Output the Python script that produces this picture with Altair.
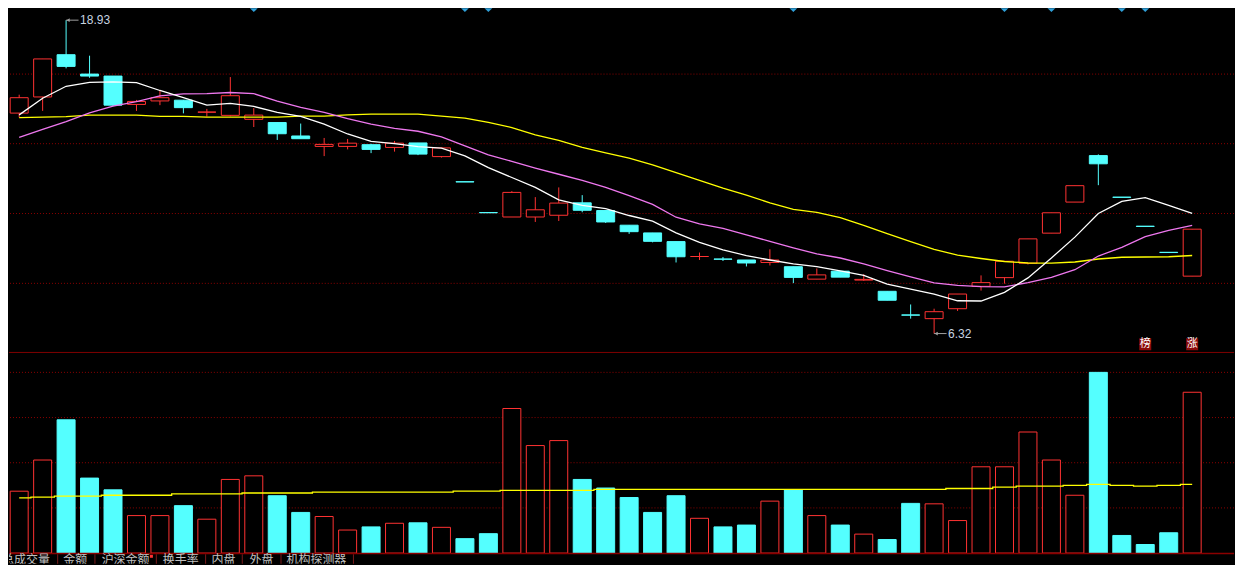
import altair as alt
import pandas as pd

# ---------------- data (one entry per trading day, index 0..50) ----------------
opens = [15.19, 15.84, 17.54, 16.76, 16.68, 15.54, 15.68, 15.71, 15.23, 15.10,
         14.94, 14.81, 14.27, 13.85, 13.85, 13.92, 13.81, 13.99, 13.44, 12.43,
         11.19, 11.01, 11.01, 11.08, 11.58, 11.27, 10.68, 10.37, 10.02, 9.42,
         9.32, 9.28, 9.18, 9.01, 8.51, 8.83, 8.47, 8.02, 7.07, 6.92,
         7.32, 8.22, 8.57, 9.15, 10.36, 11.61, 13.48, 11.81, 10.64, 9.59, 8.63]
closes = [15.81, 17.37, 17.07, 16.68, 15.51, 15.66, 15.81, 15.41, 15.23, 15.89,
          15.11, 14.36, 14.16, 13.93, 13.98, 13.73, 13.98, 13.54, 13.79, 12.42,
          11.18, 12.00, 11.30, 11.57, 11.28, 10.81, 10.42, 10.03, 9.41, 9.42,
          9.31, 9.16, 9.28, 8.58, 8.68, 8.59, 8.50, 7.66, 7.06, 7.20,
          7.91, 8.37, 9.23, 10.13, 11.18, 12.27, 13.15, 11.80, 10.63, 9.58, 10.52]
highs = [15.93, 17.37, 18.93, 17.50, 16.68, 15.72, 16.10, 15.71, 15.36, 16.64,
         15.39, 14.81, 14.77, 14.19, 14.15, 13.96, 14.07, 13.99, 13.79, 12.43,
         11.19, 12.05, 11.81, 12.20, 11.89, 11.27, 10.68, 10.37, 10.02, 9.58,
         9.40, 9.28, 9.71, 9.01, 8.94, 8.83, 8.71, 8.02, 7.49, 7.32,
         7.91, 8.66, 9.23, 10.13, 11.18, 12.27, 13.53, 11.81, 10.64, 9.59, 10.52]
lows = [15.02, 15.28, 16.99, 16.61, 15.47, 15.28, 15.51, 15.18, 15.05, 15.06,
        14.63, 14.11, 14.16, 13.46, 13.73, 13.58, 13.64, 13.50, 13.40, 12.42,
        11.18, 11.01, 10.81, 10.85, 11.20, 10.77, 10.33, 9.99, 9.18, 9.28,
        9.24, 9.02, 9.06, 8.35, 8.51, 8.59, 8.44, 7.66, 6.92, 6.32,
        7.23, 8.05, 8.33, 9.10, 10.36, 11.61, 12.29, 11.80, 10.63, 9.58, 8.63]
ma5 = [15.12, 15.79, 16.27, 16.43, 16.45, 16.42, 16.10, 15.81, 15.51, 15.58,
       15.46, 15.22, 15.06, 14.75, 14.35, 14.05, 13.96, 13.84, 13.78, 13.47,
       13.00, 12.60, 12.20, 11.70, 11.48, 11.35, 11.07, 10.84, 10.37, 9.99,
       9.69, 9.46, 9.28, 9.12, 9.01, 8.84, 8.66, 8.31, 8.11, 7.91,
       7.64, 7.63, 7.98, 8.56, 9.36, 10.20, 11.15, 11.64, 11.79, 11.48, 11.16]
ma10 = [14.21, 14.54, 14.85, 15.20, 15.47, 15.65, 15.88, 15.96, 15.97, 16.02,
        15.97, 15.67, 15.42, 15.22, 14.97, 14.75, 14.58, 14.46, 14.23, 13.87,
        13.51, 13.25, 12.98, 12.73, 12.48, 12.20, 11.87, 11.52, 11.00, 10.73,
        10.55, 10.29, 10.03, 9.77, 9.53, 9.36, 9.12, 8.85, 8.60, 8.36,
        8.26, 8.21, 8.20, 8.37, 8.58, 8.89, 9.44, 9.79, 10.22, 10.47, 10.67]
ma30 = [15.01, 15.03, 15.05, 15.11, 15.11, 15.11, 15.06, 15.06, 15.03, 15.03,
        15.03, 15.03, 15.07, 15.07, 15.12, 15.15, 15.15, 15.15, 15.07, 14.99,
        14.82, 14.61, 14.31, 14.09, 13.81, 13.59, 13.38, 13.11, 12.80, 12.48,
        12.17, 11.89, 11.58, 11.32, 11.20, 10.98, 10.67, 10.34, 10.02, 9.71,
        9.48, 9.34, 9.22, 9.16, 9.15, 9.20, 9.32, 9.39, 9.40, 9.41, 9.46]
volumes = [1.37, 2.06, 2.95, 1.66, 1.40, 0.83, 0.83, 1.05, 0.75, 1.63,
           1.71, 1.27, 0.90, 0.81, 0.51, 0.58, 0.66, 0.67, 0.57, 0.32,
           0.43, 3.20, 2.38, 2.49, 1.63, 1.44, 1.23, 0.90, 1.27, 0.77,
           0.58, 0.62, 1.15, 1.40, 0.83, 0.62, 0.42, 0.30, 1.10, 1.09,
           0.72, 1.91, 1.91, 2.68, 2.06, 1.28, 4.00, 0.39, 0.19, 0.45, 3.56]
vol_ma = [1.22, 1.24, 1.26, 1.26, 1.28, 1.28, 1.28, 1.31, 1.31, 1.31,
          1.33, 1.33, 1.33, 1.35, 1.35, 1.35, 1.35, 1.35, 1.35, 1.37,
          1.37, 1.39, 1.39, 1.39, 1.39, 1.41, 1.41, 1.41, 1.41, 1.41,
          1.41, 1.41, 1.41, 1.41, 1.41, 1.41, 1.41, 1.41, 1.41, 1.41,
          1.43, 1.43, 1.46, 1.48, 1.48, 1.50, 1.52, 1.50, 1.48, 1.50, 1.52]
price_grid = [8.34, 11.15, 13.96, 16.76]
vol_grid = [1, 2, 3, 4]
signal_idx = [10, 19, 20, 33, 42, 44, 47, 48]
badge_idx = [48, 50]
badge_text = ["榜", "涨"]
extreme_idx = [2, 39]
extreme_price = [18.93, 6.32]
extreme_text = ["18.93", "6.32"]
tab_labels = ["总成交量", "金额", "沪深金额", "换手率", "内盘", "外盘", "机构探测器"]

# ---------------- layout / style ----------------
W, H1, H2 = 1226, 345, 211
SX = W / 1243.0
RED, CYAN, BG = "#ff3232", "#54ffff", "#000000"
GRID = "#8b0000"
tab_x = [-7, 55, 94, 156, 205.5, 244, 281.5]
tab_sep_x = [49.4, 87.2, 149.5, 199.5, 236.7, 276, 349.5]

n = len(opens)
df = pd.DataFrame({
    "i": list(range(n)), "open": opens, "close": closes, "high": highs, "low": lows,
    "ma5": ma5, "ma10": ma10, "ma30": ma30, "vol": volumes, "volma": vol_ma,
})
df["dir"] = ["up" if c >= o else "down" for o, c in zip(opens, closes)]

xs = alt.Scale(domain=[-0.221, 51.57], nice=False, zero=False)
X = alt.X("i:Q", scale=xs, axis=None)
ps = alt.Scale(domain=[5.54, 19.41], nice=False, zero=False)
vs = alt.Scale(domain=[-0.2366, 4.430], nice=False, zero=False)


def PY(f):
    return alt.Y(f + ":Q", scale=ps, axis=None)


def VY(f):
    return alt.Y(f + ":Q", scale=vs, axis=None)


stroke_enc = alt.Stroke("dir:N", scale=alt.Scale(domain=["up", "down"], range=[RED, CYAN]), legend=None)
fill_enc = alt.Fill("dir:N", scale=alt.Scale(domain=["up", "down"], range=[BG, CYAN]), legend=None)

base = alt.Chart(df)

# ---------------- price panel ----------------
pgrid = alt.Chart(pd.DataFrame({"p": price_grid})).mark_rule(
    color=GRID, strokeDash=[1, 2], strokeWidth=1).encode(y=PY("p"))
sep = alt.Chart(pd.DataFrame({"k": [0]})).mark_rule(color="#800000", strokeWidth=1).encode(
    y=alt.value(H1 - 0.5))

wick = base.mark_rule(strokeWidth=1, clip=True).encode(x=X, y=PY("low"), y2="high", stroke=stroke_enc)
body = base.mark_bar(width=18, strokeWidth=1, clip=True).encode(
    x=X, y=PY("open"), y2="close", fill=fill_enc, stroke=stroke_enc)

l30 = base.mark_line(color="#ffff00", strokeWidth=1.3, clip=True).encode(x=X, y=PY("ma30"))
l10 = base.mark_line(color="#ee77ee", strokeWidth=1.3, clip=True).encode(x=X, y=PY("ma10"))
l5 = base.mark_line(color="#ffffff", strokeWidth=1.3, clip=True).encode(x=X, y=PY("ma5"))

ext = alt.Chart(pd.DataFrame({"i": extreme_idx, "p": extreme_price, "t": extreme_text}))
arrow_line = ext.transform_calculate(i2="datum.i + 0.53").mark_rule(
    color="#a0a0a0", strokeWidth=1).encode(x=X, x2="i2:Q", y=PY("p"))
arrow_head = ext.mark_point(shape="triangle-left", filled=True, size=14, color="#a0a0a0",
                            opacity=1, xOffset=2).encode(x=X, y=PY("p"))
ext_text = ext.mark_text(align="left", baseline="middle", dx=14, font="Liberation Sans",
                         fontSize=12, color="#c8d4e0").encode(x=X, y=PY("p"), text="t:N")

sig = alt.Chart(pd.DataFrame({"i": signal_idx})).mark_point(
    shape="diamond", filled=True, size=60, color="#2f9fd8", opacity=1, clip=True).encode(
    x=X, y=alt.value(0))

bdg = alt.Chart(pd.DataFrame({"i": badge_idx, "t": badge_text}))
bdg_box = bdg.mark_square(size=144, color="#8c0a0a", opacity=1).encode(x=X, y=alt.value(336.3))
bdg_txt = bdg.mark_text(font="Noto Sans CJK SC", fontSize=11, color="#ffffff",
                        baseline="middle", align="center").encode(x=X, y=alt.value(336.5), text="t:N")

price = alt.layer(pgrid, sep, wick, body, l30, l10, l5, arrow_line, arrow_head, ext_text,
                  sig, bdg_box, bdg_txt).properties(width=W, height=H1)

# ---------------- volume panel ----------------
vgrid = alt.Chart(pd.DataFrame({"v": vol_grid})).mark_rule(
    color=GRID, strokeDash=[1, 2], strokeWidth=1).encode(y=VY("v"))
vbars = base.mark_bar(width=18, strokeWidth=1, clip=True).encode(
    x=X, y=VY("vol"), y2=alt.Y2Datum(0), fill=fill_enc, stroke=stroke_enc)
vline = base.mark_line(color="#ffff00", strokeWidth=1.3, interpolate="step", clip=True).encode(
    x=X, y=VY("volma"))
vbase = alt.Chart(pd.DataFrame({"k": [0]})).mark_rule(color="#8b0000", strokeWidth=1.5).encode(
    y=alt.value(200.6))

tab_layers = []
for lab, tx in zip(tab_labels, tab_x):
    tab_layers.append(
        alt.Chart(pd.DataFrame({"t": [lab]})).mark_text(
            align="left", baseline="top", font="Noto Sans CJK SC", fontSize=12,
            color="#c0c0c0", clip=True).encode(x=alt.value(tx * SX), y=alt.value(202.0), text="t:N"))
for sx in tab_sep_x:
    tab_layers.append(
        alt.Chart(pd.DataFrame({"k": [0]})).mark_rule(color="#7a1a1a", strokeWidth=1).encode(
            x=alt.value(sx * SX), y=alt.value(201.5), y2=alt.value(H2)))
tab_layers.append(
    alt.Chart(pd.DataFrame({"k": [0]})).mark_square(size=9, color=RED, opacity=1).encode(
        x=alt.value(144.5 * SX), y=alt.value(203.5)))

volume = alt.layer(vgrid, vbars, vline, vbase, *tab_layers).properties(width=W, height=H2)

chart = alt.vconcat(price, volume, spacing=0).properties(
    padding=0, background=BG
).configure_view(strokeWidth=0)

chart.save("out.html", embed_options={"renderer": "svg", "actions": False})
